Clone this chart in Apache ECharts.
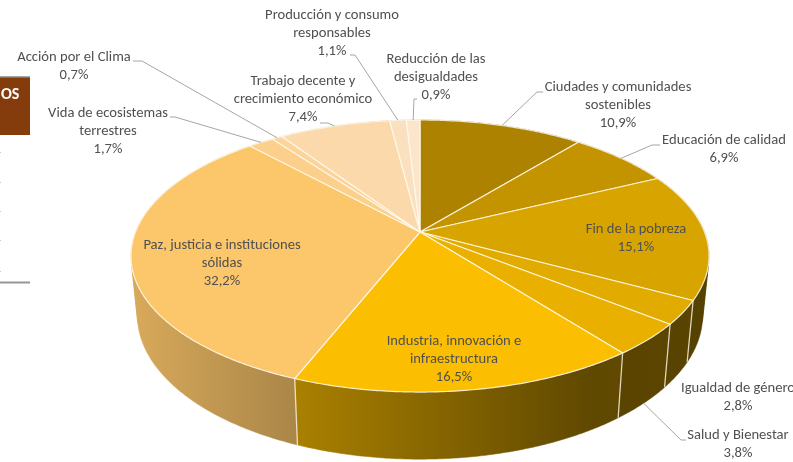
<!DOCTYPE html>
<html>
<head>
<meta charset="utf-8">
<style>
  html, body { margin: 0; padding: 0; background: #fff; }
  #chart { width: 793px; height: 462px; }
</style>
<script src="https://cdn.jsdelivr.net/npm/echarts@6/dist/echarts.min.js"></script>
</head>
<body>
<div id="chart"></div>
<script>
  var categories = [
    'Ciudades y comunidades\nsostenibles',
    'Educación de calidad',
    'Fin de la pobreza',
    'Igualdad de género',
    'Salud y Bienestar',
    'Industria, innovación e\ninfraestructura',
    'Paz, justicia e instituciones\nsólidas',
    'Vida de ecosistemas\nterrestres',
    'Acción por el Clima',
    'Trabajo decente y\ncrecimiento económico',
    'Producción y consumo\nresponsables',
    'Reducción de las\ndesigualdades'
  ]
  var values = [10.9, 6.9, 15.1, 2.8, 3.8, 16.5, 32.2, 1.7, 0.7, 7.4, 1.1, 0.9]
  var colors = ['#ad8200', '#c49400', '#d8a400', '#e2ab00', '#e9b000', '#fbbe00',
    '#fcc66a', '#fccf8c', '#fcd39a', '#fbd9ab', '#fbe0bf', '#fbe6cc']

  // label centre [x, y of first line], and the elbow of the leader line (null = no leader)
  var labelPos = [
    [618, 87], [724, 140], [636, 229], [738, 388], [738, 435], [454, 341],
    [222, 245], [108, 113], [74, 57], [303, 81], [332, 15], [436, 59]
  ]
  var leaderStart = [
    [[543, 92], [537, 92]], [[660, 145], [652, 145]], null, null, [[686, 440], [681, 440]], null,
    null, [[170, 117], [175, 117]], [[133, 61], [142, 61]], [[320, 123], [328, 123]],
    [[350, 55], [355, 55]], [[417, 99], [414, 99]]
  ]
  // stray marks of the cropped neighbour at the left edge
  var edgeTicks = [152, 182, 211, 240, 271]

  // perspective of the pie disc, fitted to the picture
  var cx = 420, cy = 232, radius = 284.5, tilt = 131.8, persp = 0.1765
  var fontFamily = 'Carlito, Calibri, Lato, sans-serif'
  var total = values.reduce(function(a, b) { return a + b }, 0)

  function topPoint(deg) {
    var a = deg * Math.PI / 180
    var u = Math.sin(a), v = -Math.cos(a), d = 1 - persp * v
    return [cx + radius * u / d, cy + tilt * v / d]
  }
  function bottomPoint(deg) {
    var p = topPoint(deg)
    return [cx + (p[0] - cx) * 0.978, 1.059 * p[1] + 44]
  }
  function startAngle(i) {
    var s = 0
    for (var k = 0; k < i; k++) s += values[k]
    return s / total * 360
  }
  function arc(fn, a0, a1) {
    var pts = [], n = Math.max(2, Math.ceil((a1 - a0) * 2))
    for (var k = 0; k <= n; k++) pts.push(fn(a0 + (a1 - a0) * k / n))
    return pts
  }
  function shade(hex, f) {
    var n = parseInt(hex.slice(1), 16)
    return 'rgb(' + Math.round((n >> 16) * f) + ',' + Math.round(((n >> 8) & 255) * f) + ',' + Math.round((n & 255) * f) + ')'
  }
  // sign of the strip between the two rims, it flips where the wall folds at the silhouette
  function stripSign(t0, t1, b0) {
    return (t1[0] - t0[0]) * (b0[1] - t0[1]) - (t1[1] - t0[1]) * (b0[0] - t0[0]) > 0
  }

  function renderWall(params) {
    var i = params.dataIndex
    var a0 = startAngle(i), a1 = startAngle(i + 1)
    var c = colors[i]
    var fill = new echarts.graphic.LinearGradient(130, 0, 708, 0, [
      { offset: 0, color: shade(c, 0.86) },
      { offset: 0.28, color: shade(c, 0.68) },
      { offset: 0.8, color: shade(c, 0.38) },
      { offset: 1, color: shade(c, 0.4) }
    ], true)
    var top = arc(topPoint, a0, a1), bottom = arc(bottomPoint, a0, a1)
    var children = []
    function pushPiece(from, to) {
      children.push({
        type: 'polygon',
        shape: { points: top.slice(from, to + 1).concat(bottom.slice(from, to + 1).reverse()) },
        style: { fill: fill, stroke: fill, lineWidth: 0.5 }
      })
    }
    var from = 0
    for (var k = 1; k < top.length - 1; k++) {
      if (stripSign(top[k], top[k + 1], bottom[k]) !== stripSign(top[k - 1], top[k], bottom[k - 1])) {
        pushPiece(from, k)
        from = k
      }
    }
    pushPiece(from, top.length - 1)
    children.push({
      type: 'line',
      z2: 5,
      shape: { x1: topPoint(a0)[0], y1: topPoint(a0)[1], x2: bottomPoint(a0)[0], y2: bottomPoint(a0)[1] },
      style: { stroke: 'rgba(250,245,230,0.8)', lineWidth: 1.3 }
    })
    return { type: 'group', children: children }
  }

  function renderFace(params) {
    var i = params.dataIndex
    var pts = [[cx, cy]].concat(arc(topPoint, startAngle(i), startAngle(i + 1)))
    return {
      type: 'polygon',
      shape: { points: pts },
      style: { fill: colors[i], stroke: 'rgba(255,250,235,0.85)', lineWidth: 1.2, lineJoin: 'round' }
    }
  }

  function renderLabel(params) {
    var i = params.dataIndex
    var children = [{
      type: 'text',
      style: {
        text: categories[i] + '\n' + values[i].toFixed(1).replace('.', ',') + '%',
        x: labelPos[i][0],
        y: labelPos[i][1] - 9,
        align: 'center',
        verticalAlign: 'top',
        lineHeight: 18,
        fontSize: 14.6,
        fontFamily: fontFamily,
        fill: '#505050'
      }
    }]
    if (leaderStart[i]) {
      var mid = (startAngle(i) + startAngle(i + 1)) / 2
      // front slices hang their leader from the bottom rim
      var end = Math.cos(mid * Math.PI / 180) < -0.3 ? bottomPoint(mid) : topPoint(mid)
      children.push({
        type: 'polyline',
        shape: { points: leaderStart[i].concat([end]) },
        style: { fill: 'none', stroke: '#a6a6a6', lineWidth: 1 }
      })
    }
    return { type: 'group', children: children }
  }

  var edgeMarks = edgeTicks.map(function(y) {
    return { type: 'rect', shape: { x: 0, y: y, width: 1, height: 1 }, style: { fill: '#c8c8c8' } }
  })

  var chart = echarts.init(document.getElementById('chart'), null, { renderer: 'canvas' })
  chart.setOption({
    animation: false,
    backgroundColor: '#fff',
    graphic: [
      { type: 'rect', shape: { x: 0, y: 77, width: 30, height: 58 }, style: { fill: '#843c0c' } },
      { type: 'rect', shape: { x: 0, y: 76, width: 30, height: 1.5 }, style: { fill: '#a6a6a6' } },
      { type: 'rect', shape: { x: 0, y: 281.5, width: 30, height: 2 }, style: { fill: '#969696' } },
      {
        type: 'text',
        style: { text: 'OS', x: 1, y: 95, fill: '#fff', fontSize: 16, fontWeight: 'bold', fontFamily: fontFamily, verticalAlign: 'middle' }
      }
    ].concat(edgeMarks),
    series: [
      { type: 'custom', coordinateSystem: 'none', z: 1, silent: true, data: values, renderItem: renderWall },
      { type: 'custom', coordinateSystem: 'none', z: 2, silent: true, data: values, renderItem: renderFace },
      { type: 'custom', coordinateSystem: 'none', z: 3, silent: true, data: values, renderItem: renderLabel }
    ]
  })
</script>
</body>
</html>
